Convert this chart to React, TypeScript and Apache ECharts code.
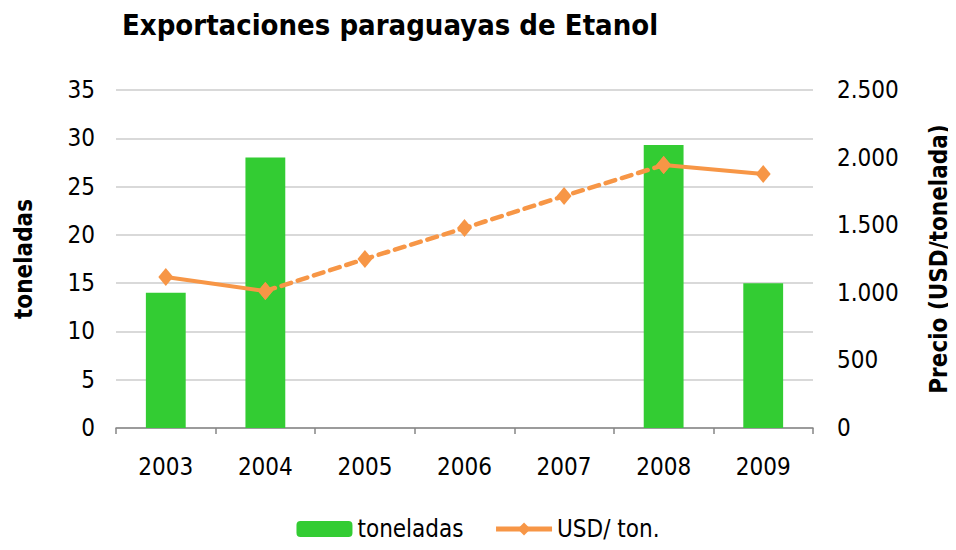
import React, { useEffect, useRef } from "react";
import * as echarts from "echarts";

const years = ["2003", "2004", "2005", "2006", "2007", "2008", "2009"];
const toneladas: (number | string)[] = [14, 28, "-", "-", "-", 29.3, 15];
const usdSolid: (number | string)[] = [1117, 1013, "-", "-", "-", 1945, 1879];
const usdDashed: (number | string)[] = ["-", 1013, 1250, 1479, 1716, 1945, "-"];

const FONT = "'DejaVu Sans Condensed', 'DejaVu Sans', sans-serif";
const ORANGE = "#F79646";
const GREEN = "#33CC33";

export default function App() {
  const ref = useRef<HTMLDivElement>(null);
  useEffect(() => {
    if (!ref.current) return;
    const chart = echarts.init(ref.current, undefined, { renderer: "svg" });
    chart.setOption({
      animation: false,
      textStyle: { fontFamily: FONT },
      title: {
        text: "Exportaciones paraguayas de Etanol",
        left: 117,
        top: 5,
        textStyle: { fontFamily: FONT, fontSize: 29, fontWeight: "bold", color: "#000" },
      },
      legend: {
        bottom: 4,
        left: "center",
        itemGap: 30,
        itemWidth: 56,
        itemHeight: 16,
        textStyle: { fontFamily: FONT, fontSize: 24, color: "#000" },
        data: [
          { name: "toneladas", itemStyle: { color: GREEN } },
          { name: "USD/ ton.", lineStyle: { width: 5, color: ORANGE }, itemStyle: { color: ORANGE } },
        ],
      },
      grid: { left: 116, right: 143, top: 90, bottom: 122, outerBoundsMode: "none", containLabel: false },
      xAxis: {
        type: "category",
        data: years,
        boundaryGap: true,
        axisLine: { lineStyle: { color: "#868686", width: 1.5 } },
        axisTick: { show: true, length: 6, lineStyle: { color: "#868686", width: 1.5 } },
        axisLabel: { fontFamily: FONT, fontSize: 24, color: "#000", margin: 27 },
      },
      yAxis: [
        {
          type: "value",
          min: 0,
          max: 35,
          interval: 5,
          name: "toneladas",
          nameLocation: "middle",
          nameGap: 80,
          nameTextStyle: { fontFamily: FONT, fontSize: 24, fontWeight: "bold", color: "#000" },
          axisLine: { show: false },
          axisTick: { show: false },
          axisLabel: { fontFamily: FONT, fontSize: 24, color: "#000", margin: 21 },
          splitLine: { lineStyle: { color: "#D9D9D9", width: 2 } },
        },
        {
          type: "value",
          min: 0,
          max: 2500,
          interval: 500,
          name: "Precio (USD/tonelada)",
          nameLocation: "middle",
          nameGap: 114,
          nameRotate: 90,
          nameTextStyle: { fontFamily: FONT, fontSize: 24, fontWeight: "bold", color: "#000" },
          axisLine: { show: false },
          axisTick: { show: false },
          axisLabel: {
            fontFamily: FONT,
            fontSize: 24,
            color: "#000",
            margin: 24,
            formatter: (v: number) => String(v).replace(/\B(?=(\d{3})+(?!\d))/g, "."),
          },
          splitLine: { show: false },
        },
      ],
      series: [
        {
          name: "toneladas",
          type: "bar",
          data: toneladas,
          barWidth: "40%",
          itemStyle: { color: GREEN },
        },
        {
          name: "USD/ ton.",
          type: "line",
          yAxisIndex: 1,
          data: usdSolid,
          connectNulls: false,
          symbol: "diamond",
          symbolSize: [15, 18],
          lineStyle: { color: ORANGE, width: 4 },
          itemStyle: { color: ORANGE },
          z: 3,
        },
        {
          name: "USD/ ton.",
          type: "line",
          yAxisIndex: 1,
          data: usdDashed,
          connectNulls: false,
          symbol: "diamond",
          symbolSize: [15, 18],
          lineStyle: { color: ORANGE, width: 4.5, type: [10, 7], cap: "round" },
          itemStyle: { color: ORANGE },
          z: 3,
        },
      ],
    });
    return () => chart.dispose();
  }, []);
  return <div ref={ref} style={{ width: 956, height: 550, margin: -8 }} />;
}
